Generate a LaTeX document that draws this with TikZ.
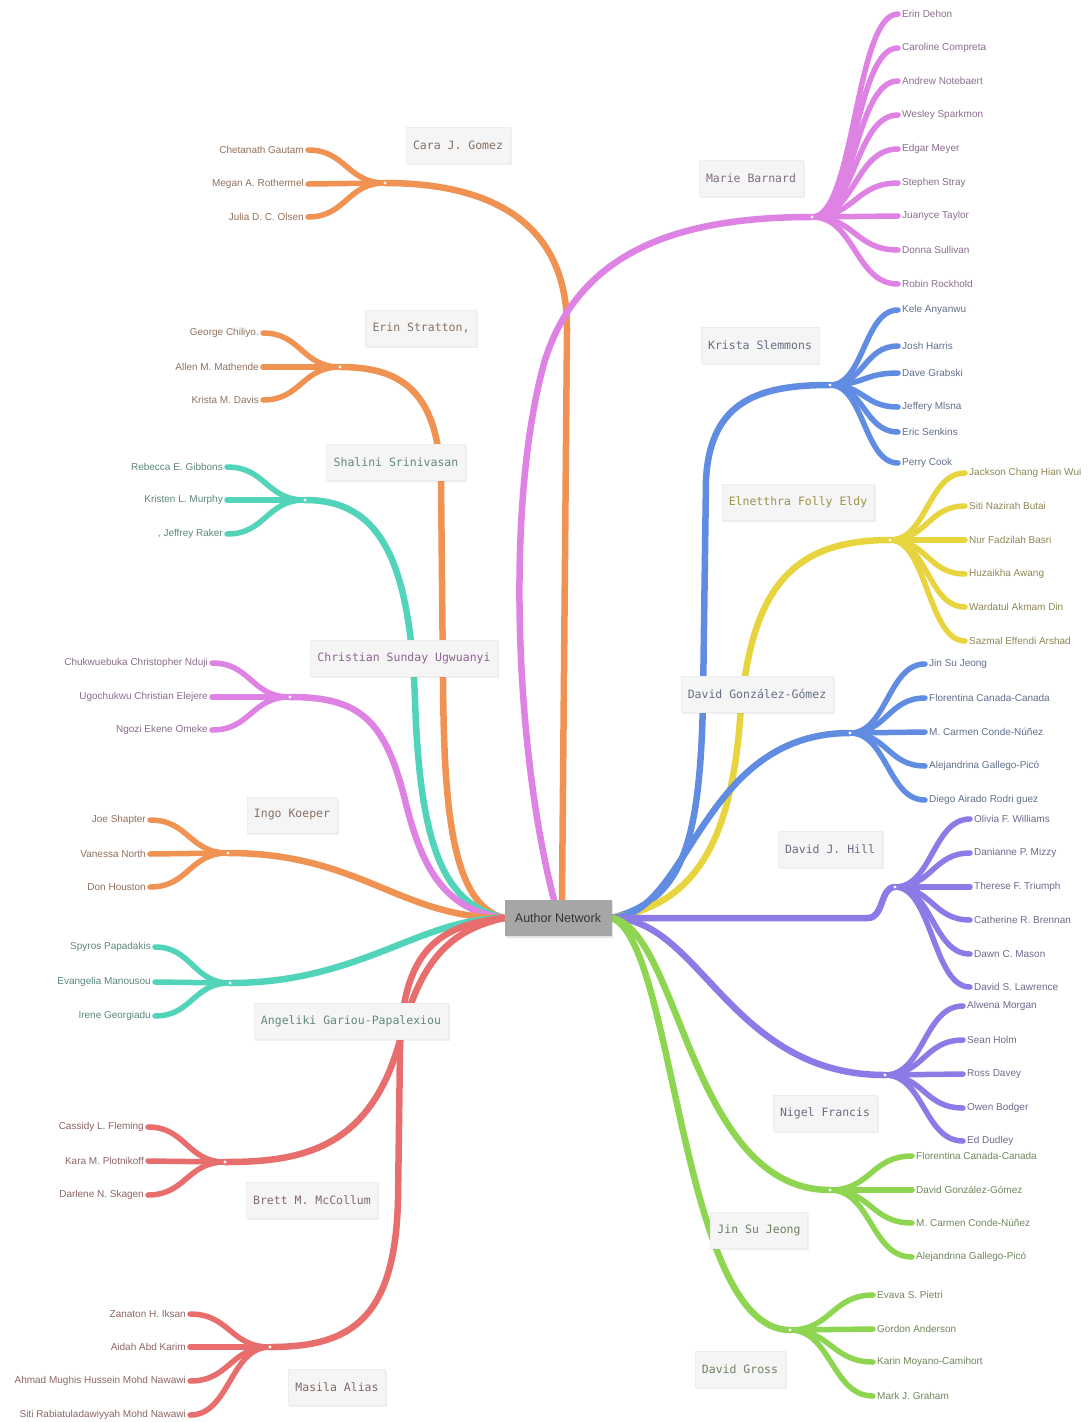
\documentclass[tikz,border=0pt]{standalone}
\usepackage{fontspec}
\setmainfont{Liberation Sans}
\setmonofont{DejaVu Sans Mono}
\usetikzlibrary{shadows}
\definecolor{cOrg}{RGB}{240,146,82}
\definecolor{cPink}{RGB}{222,130,228}
\definecolor{cTeal}{RGB}{82,212,186}
\definecolor{cBlue}{RGB}{96,140,226}
\definecolor{cYel}{RGB}{232,212,62}
\definecolor{cPur}{RGB}{140,122,230}
\definecolor{cGrn}{RGB}{142,214,82}
\definecolor{cRed}{RGB}{232,110,110}
\tikzset{
  mainlink/.style={draw=#1, line width=6.5pt, line cap=round},
  link/.style={draw=#1, line width=5.5pt, line cap=round},
  leafR/.style={anchor=west, inner xsep=4pt, inner ysep=1pt, font=\fontsize{10}{12}\selectfont},
  leafL/.style={anchor=east, inner xsep=4pt, inner ysep=1pt, font=\fontsize{10}{12}\selectfont},
  lab/.style={fill=black!4, draw=black!7, minimum height=36pt, inner xsep=7pt,
    font=\ttfamily\fontsize{11.5}{13}\selectfont,
    drop shadow={opacity=0.12, shadow xshift=1.5pt, shadow yshift=-1.5pt}},
  hubdot/.style={fill=white, draw=none},
}
\newcommand\leavesR[5]{%
  \foreach \yy/\nm [count=\k] in {#5} {
    \node[leafR, text=#4!45!black!75] (#1-\k) at (#2,\yy) {\nm};
    \draw[link=#4] (#1) .. controls +(#3,0) and +(-#3,0) .. (#1-\k.west);
  }}
\newcommand\leavesL[5]{%
  \foreach \yy/\nm [count=\k] in {#5} {
    \node[leafL, text=#4!45!black!75] (#1-\k) at (#2,\yy) {\nm};
    \draw[link=#4] (#1) .. controls +(-#3,0) and +(#3,0) .. (#1-\k.east);
  }}
\begin{document}
\begin{tikzpicture}[x=1pt,y=-1pt]
\useasboundingbox (0,0) rectangle (1089,1422);
\fill[white] (0,0) rectangle (1089,1422);

% centre node (placed first for anchors; redrawn on top later)
\node[minimum width=107pt, minimum height=36pt, inner sep=0pt] (an) at (558,918) {};

% hubs
\coordinate (hCara) at (385,183);
\coordinate (hMarie) at (812,217);
\coordinate (hErin) at (340,367);
\coordinate (hKrista) at (830,385);
\coordinate (hShal) at (305,500);
\coordinate (hElne) at (890,540);
\coordinate (hChris) at (290,697);
\coordinate (hDGG) at (850,733);
\coordinate (hIngo) at (228,853);
\coordinate (hHill) at (895,887);
\coordinate (hAng) at (230,983);
\coordinate (hNigel) at (885,1075);
\coordinate (hBrett) at (225,1162);
\coordinate (hJin) at (830,1190);
\coordinate (hMas) at (270,1347);
\coordinate (hGross) at (790,1330);

% main branches, left side
\draw[mainlink=cOrg] ([xshift=4pt]an.north) -- (567,330) .. controls (568,215) and (480,183) .. (hCara);
\draw[mainlink=cPink] ([xshift=-4pt]an.north) .. controls (515,750) and (505,500) .. (545,360) .. controls (580,250) and (680,217) .. (hMarie);
\draw[mainlink=cOrg] (an.west) .. controls (450,905) and (444,800) .. (443,680) -- (441,480) .. controls (438,390) and (400,367) .. (hErin);
\draw[mainlink=cTeal] (an.west) .. controls (445,905) and (420,850) .. (415,700) .. controls (410,560) and (380,500) .. (hShal);
\draw[mainlink=cPink] (an.west) .. controls (440,910) and (420,860) .. (405,800) .. controls (385,720) and (360,697) .. (hChris);
\draw[mainlink=cOrg] (an.west) .. controls (400,918) and (360,853) .. (hIngo);
\draw[mainlink=cTeal] (an.west) .. controls (420,918) and (360,983) .. (hAng);
\draw[mainlink=cRed] (an.west) .. controls (450,930) and (420,960) .. (400,1040) .. controls (370,1150) and (300,1162) .. (hBrett);
\draw[mainlink=cRed] (an.west) .. controls (430,925) and (402,960) .. (400,1050) -- (398,1200) .. controls (395,1320) and (350,1347) .. (hMas);

% main branches, right side
\draw[mainlink=cBlue] (an.east) .. controls (680,900) and (700,850) .. (703,700) -- (706,480) .. controls (710,400) and (760,385) .. (hKrista);
\draw[mainlink=cYel] (an.east) .. controls (690,905) and (730,850) .. (740,720) .. controls (750,590) and (790,540) .. (hElne);
\draw[mainlink=cBlue] (an.east) .. controls (690,915) and (700,733) .. (hDGG);
\draw[mainlink=cPur] (an.east) -- (868,918) .. controls (884,918) and (880,887) .. (hHill);
\draw[mainlink=cPur] (an.east) .. controls (700,918) and (730,1075) .. (hNigel);
\draw[mainlink=cGrn] (an.east) .. controls (680,930) and (690,1190) .. (hJin);
\draw[mainlink=cGrn] (an.east) .. controls (675,940) and (680,1330) .. (hGross);

% leaves, right side
\leavesR{hMarie}{898}{43}{cPink}{14/Erin Dehon, 48/Caroline Compreta, 81/Andrew Notebaert, 115/Wesley Sparkmon, 149/Edgar Meyer, 183/Stephen Stray, 216/Juanyce Taylor, 250/Donna Sullivan, 284/Robin Rockhold}
\leavesR{hKrista}{898}{34}{cBlue}{310/Kele Anyanwu, 346/Josh Harris, 373/Dave Grabski, 407/Jeffery Mlsna, 432/Eric Senkins, 463/Perry Cook}
\leavesR{hElne}{965}{37}{cYel}{473/Jackson Chang Hian Wui, 506/Siti Nazirah Butai, 540/Nur Fadzilah Basri, 574/Huzaikha Awang, 607/Wardatul Akmam Din, 641/Sazmal Effendi Arshad}
\leavesR{hDGG}{925}{37}{cBlue}{664/Jin Su Jeong, 698/Florentina Canada-Canada, 732/M. Carmen Conde-Núñez, 766/Alejandrina Gallego-Picó, 800/Diego Airado Rodri guez}
\leavesR{hHill}{970}{37}{cPur}{819/Olivia F. Williams, 853/Danianne P. Mizzy, 887/Therese F. Triumph, 920/Catherine R. Brennan, 954/Dawn C. Mason, 987/David S. Lawrence}
\leavesR{hNigel}{963}{39}{cPur}{1006/Alwena Morgan, 1040/Sean Holm, 1074/Ross Davey, 1108/Owen Bodger, 1141/Ed Dudley}
\leavesR{hJin}{912}{41}{cGrn}{1156/Florentina Canada-Canada, 1190/David González-Gómez, 1223/M. Carmen Conde-Núñez, 1257/Alejandrina Gallego-Picó}
\leavesR{hGross}{873}{41}{cGrn}{1295/Evava S. Pietri, 1329/Gordon Anderson, 1362/Karin Moyano-Camihort, 1396/Mark J. Graham}

% leaves, left side
\leavesL{hCara}{308}{38}{cOrg}{150/Chetanath Gautam, 184/Megan A. Rothermel, 217/Julia D. C. Olsen}
\leavesL{hErin}{263}{38}{cOrg}{333/George Chiliyo., 367/Allen M. Mathende, 400/Krista M. Davis}
\leavesL{hShal}{227}{39}{cTeal}{467/Rebecca E. Gibbons, 500/Kristen L. Murphy, 534/{, Jeffrey Raker}}
\leavesL{hChris}{212}{39}{cPink}{663/Chukwuebuka Christopher Nduji, 697/Ugochukwu Christian Elejere, 730/Ngozi Ekene Omeke}
\leavesL{hIngo}{150}{39}{cOrg}{820/Joe Shapter, 854/Vanessa North, 887/Don Houston}
\leavesL{hAng}{155}{37}{cTeal}{947/Spyros Papadakis, 982/Evangelia Manousou, 1016/Irene Georgiadu}
\leavesL{hBrett}{148}{38}{cRed}{1127/Cassidy L. Fleming, 1161/Kara M. Plotnikoff, 1195/Darlene N. Skagen}
\leavesL{hMas}{190}{40}{cRed}{1314/Zanaton H. Iksan, 1347/Aidah Abd Karim, 1381/Ahmad Mughis Hussein Mohd Nawawi, 1415/Siti Rabiatuladawiyyah Mohd Nawawi}

% hub dots
\foreach \h in {hCara,hMarie,hErin,hKrista,hShal,hElne,hChris,hDGG,hIngo,hHill,hAng,hNigel,hBrett,hJin,hMas,hGross}
  \fill[hubdot] (\h) circle (1.6);

% branch labels
\node[lab, text=cOrg!35!black!70] (lCara) at (458,145) {Cara J. Gomez};
\node[lab, text=cPink!35!black!70] (lMarie) at (751,178) {Marie Barnard};
\node[lab, text=cOrg!35!black!70] (lErin) at (421,328) {Erin Stratton,};
\node[lab, text=cBlue!35!black!70] (lKrista) at (760,345) {Krista Slemmons};
\node[lab, text=cTeal!40!black!70] (lShal) at (396,462) {Shalini Srinivasan};
\node[lab, text=cYel!60!black!85] (lElne) at (798,502) {Elnetthra Folly Eldy};
\node[lab, text=cPink!55!black!85] (lChris) at (404,658) {Christian Sunday Ugwuanyi};
\node[lab, text=cBlue!35!black!70] (lDGG) at (757,694) {David González-Gómez};
\node[lab, text=cOrg!35!black!70] (lIngo) at (292,815) {Ingo Koeper};
\node[lab, text=cPur!35!black!70] (lHill) at (830,849) {David J. Hill};
\node[lab, text=cTeal!40!black!70] (lAng) at (351,1021) {Angeliki Gariou-Papalexiou};
\node[lab, text=cPur!35!black!70] (lNigel) at (825,1113) {Nigel Francis};
\node[lab, text=cRed!35!black!70] (lBrett) at (312,1200) {Brett M. McCollum};
\node[lab, text=cGrn!35!black!70] (lJin) at (759,1230) {Jin Su Jeong};
\node[lab, text=cRed!35!black!70] (lMas) at (337,1387) {Masila Alias};
\node[lab, text=cGrn!35!black!70] (lGross) at (740,1369) {David Gross};

% centre node on top
\node[fill=black!35, minimum width=107pt, minimum height=36pt, inner sep=0pt,
  text=black!80, font=\fontsize{12.5}{14}\selectfont,
  drop shadow={opacity=0.2, shadow xshift=1.5pt, shadow yshift=-1.5pt}] at (an) {Author Network};
\end{tikzpicture}
\end{document}
